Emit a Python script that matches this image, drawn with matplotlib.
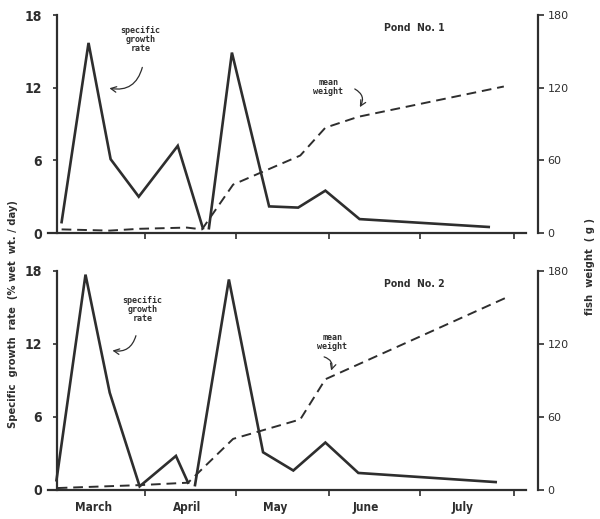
import matplotlib
matplotlib.use("Agg")
import numpy as np
from matplotlib import pyplot as plt

# days counted from 1 March
month_ticks = [31, 61, 92, 122, 153]
month_pos = [14, 45, 74, 104, 136]
month_names = ["March", "April", "May", "June", "July"]

# Pond No. 1 (nan = break in the curve)
p1_growth_day = [3.5, 12.4, 19.7, 29.0, 41.9, 50.2, np.nan, 52.2, 59.8, 72.1, 81.7, 90.7, 102.0, 144.7]
p1_growth = [0.9, 15.7, 6.1, 3.0, 7.2, 0.4, np.nan, 0.4, 14.9, 2.2, 2.1, 3.5, 1.15, 0.5]
p1_weight_day = [3.5, 19.4, 29.3, 44.9, 49.9, 60.2, 82.4, 90.7, 101.6, 149.7]
p1_weight = [3, 2, 3.5, 4.5, 3, 40, 64, 87, 96, 121]

# Pond No. 2
p2_growth_day = [1.8, 11.4, 19.4, 29.3, 41.3, 45.3, np.nan, 47.6, 58.8, 70.1, 80.1, 90.7, 101.6, 147.0]
p2_growth = [0.8, 17.7, 8.0, 0.3, 2.8, 0.6, np.nan, 0.4, 17.3, 3.1, 1.6, 3.9, 1.4, 0.65]
p2_weight_day = [2.2, 29.3, 45.3, 60.2, 82.4, 90.7, 150.4]
p2_weight = [1.6, 4, 6, 42, 58, 91, 158]

ink = "#2e2e2e"
bold = dict(family=["Liberation Sans Narrow", "DejaVu Sans"], fontweight="bold",
            fontstretch="condensed", color=ink)
small = dict(family=["DejaVu Sans Mono"], fontweight="bold", color=ink, fontsize=6)

fig = plt.figure(figsize=(6, 5.19), dpi=100)
fig.patch.set_facecolor("white")


def panel(rect, gday, grate, wday, wt, pond, gtxt, garrow, wtxt, warrow, labels):
    ax = fig.add_axes(rect)
    ax.set_xlim(-1, 161)
    ax.set_ylim(0, 18)
    ax.plot(gday, grate, color=ink, lw=1.9, solid_joinstyle="miter")
    for s in ["top", "right"]:
        ax.spines[s].set_visible(False)
    ax.spines["left"].set_position(("data", 2))
    ax.spines["bottom"].set_bounds(-1, 157)
    for s in ["left", "bottom"]:
        ax.spines[s].set_linewidth(1.6)
        ax.spines[s].set_color(ink)
    ax.set_yticks([0, 6, 12, 18])
    ax.set_yticklabels(["0", "6", "12", "18"], fontsize=10, **bold)
    ax.tick_params(axis="y", direction="out", length=3, width=1.2, color=ink, pad=8)
    ax.set_xticks(month_ticks)
    ax.tick_params(axis="x", direction="out", length=4, width=1.2, color=ink)
    ax.set_xticklabels([])
    if labels:
        ax.set_xticks(month_pos, minor=True)
        ax.set_xticklabels(month_names, minor=True, fontsize=8.5, **bold)
        ax.tick_params(axis="x", which="minor", length=0, pad=8)
    ax.text(120, 16.9, pond, ha="center", va="center", fontsize=7.5, **bold)
    ax.text(gtxt[0], gtxt[1], "specific\ngrowth\nrate", ha="center", va="center",
            linespacing=1.0, **small)
    ax.annotate("", xy=garrow[1], xytext=garrow[0],
                arrowprops=dict(arrowstyle="->", color=ink, lw=0.9,
                                connectionstyle="arc3,rad=-0.5"))

    ax2 = ax.twinx()
    ax2.set_xlim(-1, 161)
    ax2.set_ylim(0, 180)
    ax2.plot(wday, wt, color=ink, lw=1.4, dashes=(5, 3))
    for s in ["top", "left", "bottom"]:
        ax2.spines[s].set_visible(False)
    ax2.spines["right"].set_linewidth(1.6)
    ax2.spines["right"].set_color(ink)
    ax2.set_yticks([0, 60, 120, 180])
    ax2.set_yticklabels(["0", "60", "120", "180"], fontsize=8, color=ink)
    ax2.tick_params(axis="y", direction="out", length=4, width=1.2, color=ink, pad=3)
    ax2.text(wtxt[0], wtxt[1], "mean\nweight", ha="center", va="center", linespacing=1.0, **small)
    ax2.annotate("", xy=warrow[1], xytext=warrow[0],
                 arrowprops=dict(arrowstyle="->", color=ink, lw=0.9,
                                 connectionstyle="arc3,rad=-0.6"))
    return ax


panel([0.08, 0.551, 0.8167, 0.42], p1_growth_day, p1_growth, p1_weight_day, p1_weight,
      "Pond  No. 1", (29.5, 16.0), ((30.4, 13.9), (18.4, 12.0)),
      (91.7, 120.5), ((99.6, 120), (101.6, 102)), False)
panel([0.08, 0.0559, 0.8167, 0.422], p2_growth_day, p2_growth, p2_weight_day, p2_weight,
      "Pond  No. 2", (30.3, 14.8), ((28.3, 12.9), (19.4, 11.5)),
      (93, 121.5), ((89.4, 110), (92.3, 96)), True)

fig.text(0.022, 0.395, "Specific  growth  rate  (% wet  wt. / day)", rotation=90,
         ha="center", va="center", fontsize=8, **bold)
fig.text(0.983, 0.487, "fish  weight  ( g )", rotation=90,
         ha="center", va="center", fontsize=8, **bold)

fig.savefig("out.png", dpi=100, facecolor="white")
